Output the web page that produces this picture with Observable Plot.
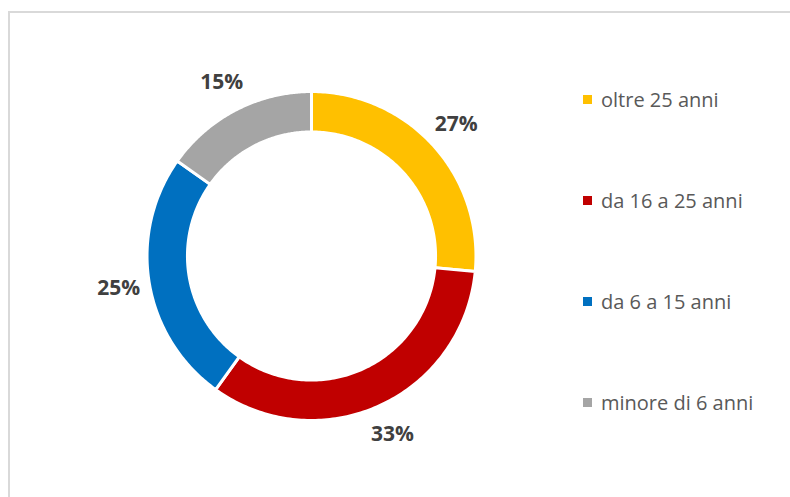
<!DOCTYPE html>
<html>
<head>
<meta charset="utf-8">
<script src="https://cdn.jsdelivr.net/npm/d3@7"></script>
<script src="https://cdn.jsdelivr.net/npm/@observablehq/plot@0.6"></script>
<style>
  html, body { margin: 0; padding: 0; background: #fff; }
  #wrap { position: relative; width: 790px; height: 497px; overflow: hidden; font-family: "Open Sans", sans-serif; }
  #frame { position: absolute; left: 8px; top: 11px; width: 800px; height: 500px;
           border-top: 2px solid #d9d9d9; border-left: 2px solid #d9d9d9; }
  #plot { position: absolute; left: 0; top: 0; }
  #legend { position: absolute; left: 583px; top: 49px; }
  .item { display: flex; align-items: center; height: 101px; }
  .sw { width: 9px; height: 9px; margin-right: 9px; }
  .lab { font-size: 20px; color: #595959; line-height: 1; }
</style>
</head>
<body>
<div id="wrap">
  <div id="frame"></div>
  <div id="plot"></div>
  <div id="legend"></div>
</div>
<script>
// Data (clockwise from 12 o'clock)
const categories = ["oltre 25 anni", "da 16 a 25 anni", "da 6 a 15 anni", "minore di 6 anni"];
const values = [26.5, 33.4, 24.9, 15.2];
const colors = ["#FFC000", "#C00000", "#0070C0", "#A5A5A5"];

// Geometry from data
const total = d3.sum(values);
const rOuter = 1.009, rInner = 0.761, rLabel = 1.2;
const pie = d3.pie().sort(null).value(d => d)(values);
const slices = pie.map((p, i) => ({
  name: categories[i],
  value: values[i],
  a0: p.startAngle, a1: p.endAngle,
  label: Math.round(values[i] / total * 100) + "%"
}));
const pts = [];
for (const s of slices) {
  const n = 120;
  for (let k = 0; k <= n; k++) {
    const a = s.a0 + (s.a1 - s.a0) * k / n;
    pts.push({name: s.name, x: rOuter * Math.sin(a), y: rOuter * Math.cos(a)});
  }
  for (let k = n; k >= 0; k--) {
    const a = s.a0 + (s.a1 - s.a0) * k / n;
    pts.push({name: s.name, x: rInner * Math.sin(a), y: rInner * Math.cos(a)});
  }
}
const labels = slices.map(s => {
  const m = (s.a0 + s.a1) / 2;
  return {name: s.name, label: s.label, x: rLabel * Math.sin(m), y: rLabel * Math.cos(m)};
});

const cx = 311, cy = 255.5, R = 163;
const chart = Plot.plot({
  width: 790, height: 497,
  margin: 0,
  style: {background: "transparent", overflow: "visible"},
  x: {domain: [-1, 1], range: [cx - R, cx + R], axis: null},
  y: {domain: [-1, 1], range: [cy + R, cy - R], axis: null},
  color: {domain: categories, range: colors},
  marks: [
    Plot.line(pts, {x: "x", y: "y", z: "name", fill: "name", stroke: "white", strokeWidth: 3, curve: "linear-closed"}),
    Plot.text(labels, {x: "x", y: "y", text: "label", fontSize: 21, fontWeight: "bold", fill: "#404040", fontFamily: "Open Sans"})
  ]
});
document.getElementById("plot").appendChild(chart);

const leg = document.getElementById("legend");
categories.forEach((c, i) => {
  const it = document.createElement("div");
  it.className = "item";
  it.innerHTML = `<span class="sw" style="background:${colors[i]}"></span><span class="lab">${c}</span>`;
  leg.appendChild(it);
});
</script>
</body>
</html>
